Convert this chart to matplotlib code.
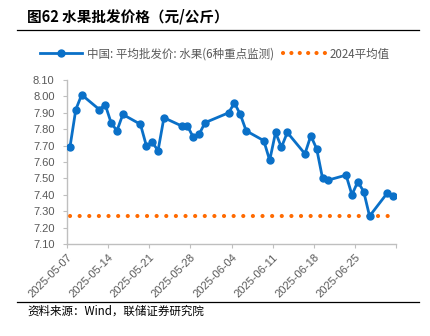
import matplotlib
matplotlib.use('Agg')
import matplotlib.pyplot as plt
from matplotlib.lines import Line2D
import numpy as np
import pandas as pd

plt.rcParams['font.family'] = ['Liberation Sans', 'Noto Sans CJK SC', 'DejaVu Sans']

dates = ['2025-05-07', '2025-05-08', '2025-05-09', '2025-05-12', '2025-05-13',
         '2025-05-14', '2025-05-15', '2025-05-16', '2025-05-19', '2025-05-20',
         '2025-05-21', '2025-05-22', '2025-05-23', '2025-05-26', '2025-05-27',
         '2025-05-28', '2025-05-29', '2025-05-30', '2025-06-03', '2025-06-04',
         '2025-06-05', '2025-06-06', '2025-06-09', '2025-06-10', '2025-06-11',
         '2025-06-12', '2025-06-13', '2025-06-16', '2025-06-17', '2025-06-18',
         '2025-06-19', '2025-06-20', '2025-06-23', '2025-06-24', '2025-06-25',
         '2025-06-26', '2025-06-27', '2025-06-30', '2025-07-01']
fruit_price = [7.69, 7.92, 8.01, 7.92, 7.95,
               7.84, 7.79, 7.89, 7.83, 7.70,
               7.72, 7.67, 7.87, 7.82, 7.82,
               7.75, 7.77, 7.84, 7.90, 7.96,
               7.89, 7.79, 7.73, 7.61, 7.78,
               7.69, 7.78, 7.65, 7.76, 7.68,
               7.50, 7.49, 7.52, 7.40, 7.48,
               7.42, 7.27, 7.41, 7.39]
avg_2024 = 7.27

title = '图62 水果批发价格（元/公斤）'
source = '资料来源：Wind，联储证券研究院'
label_fruit = '中国: 平均批发价: 水果(6种重点监测)'
label_avg = '2024平均值'

blue = '#0A70C8'
orange = '#FF6A00'
gray = '#595959'
cjk = ['Noto Sans CJK SC', 'DejaVu Sans']

x = pd.to_datetime(dates) + pd.Timedelta(hours=12)

fig = plt.figure(figsize=(4.30, 3.36), dpi=100)
ax = fig.add_axes([67 / 430, 1 - 244 / 336, (396 - 67) / 430, (244 - 80) / 336])

ax.plot(x, [avg_2024] * len(x), color=orange, lw=3.0,
        linestyle=(0, (0.01, 2.3)), dash_capstyle='round', zorder=2)
ax.plot(x, fruit_price, color=blue, lw=2.0, marker='o', markersize=5, zorder=3)

x0 = pd.Timestamp('2025-05-07')
x1 = pd.Timestamp('2025-07-02')
ax.set_xlim(x0, x1)
ax.set_ylim(7.10, 8.10)
ax.set_yticks(np.arange(7.10, 8.101, 0.10))
ax.yaxis.set_major_formatter(matplotlib.ticker.FormatStrFormatter('%.2f'))

ticks = pd.date_range(x0, x1, freq='7D')
ax.set_xticks(ticks)
ax.set_xticklabels([t.strftime('%Y-%m-%d') if t < x1 else '' for t in ticks],
                   rotation=45, ha='right', rotation_mode='anchor')

for s in ['top', 'right']:
    ax.spines[s].set_visible(False)
for s in ['left', 'bottom']:
    ax.spines[s].set_color('#BFBFBF')
    ax.spines[s].set_linewidth(1.0)
ax.tick_params(axis='y', colors='#BFBFBF', labelcolor=gray, labelsize=8, length=3, pad=6)
ax.tick_params(axis='x', colors='#BFBFBF', labelcolor=gray, labelsize=8, length=3, pad=3)

handles = [Line2D([], [], color=blue, lw=2.0, marker='o', markersize=5, markevery=[1]),
           Line2D([], [], color=orange, lw=3.0, linestyle=(0, (0.01, 2.0)),
                  dash_capstyle='round')]
leg = fig.legend(handles, [label_fruit, label_avg], ncol=2, loc='center',
                 bbox_to_anchor=(0.5, 1 - 54 / 336), frameon=False,
                 handlelength=3.6, handletextpad=0.45, columnspacing=0.8,
                 prop={'family': cjk, 'size': 8.3})
for t in leg.get_texts():
    t.set_color(gray)

fig.text(27 / 430, 1 - 17 / 336, title, fontsize=10.5, fontweight='bold',
         family=cjk, va='center', ha='left')
fig.text(27 / 430, 1 - 311 / 336, source, fontsize=8.3, family=cjk,
         va='center', ha='left')
fig.add_artist(Line2D([17 / 430, 419 / 430], [1 - 30 / 336] * 2, color='black', lw=0.9))
fig.add_artist(Line2D([17 / 430, 419 / 430], [1 - 302 / 336] * 2, color='black', lw=0.9))

fig.savefig('out.png', dpi=100)
